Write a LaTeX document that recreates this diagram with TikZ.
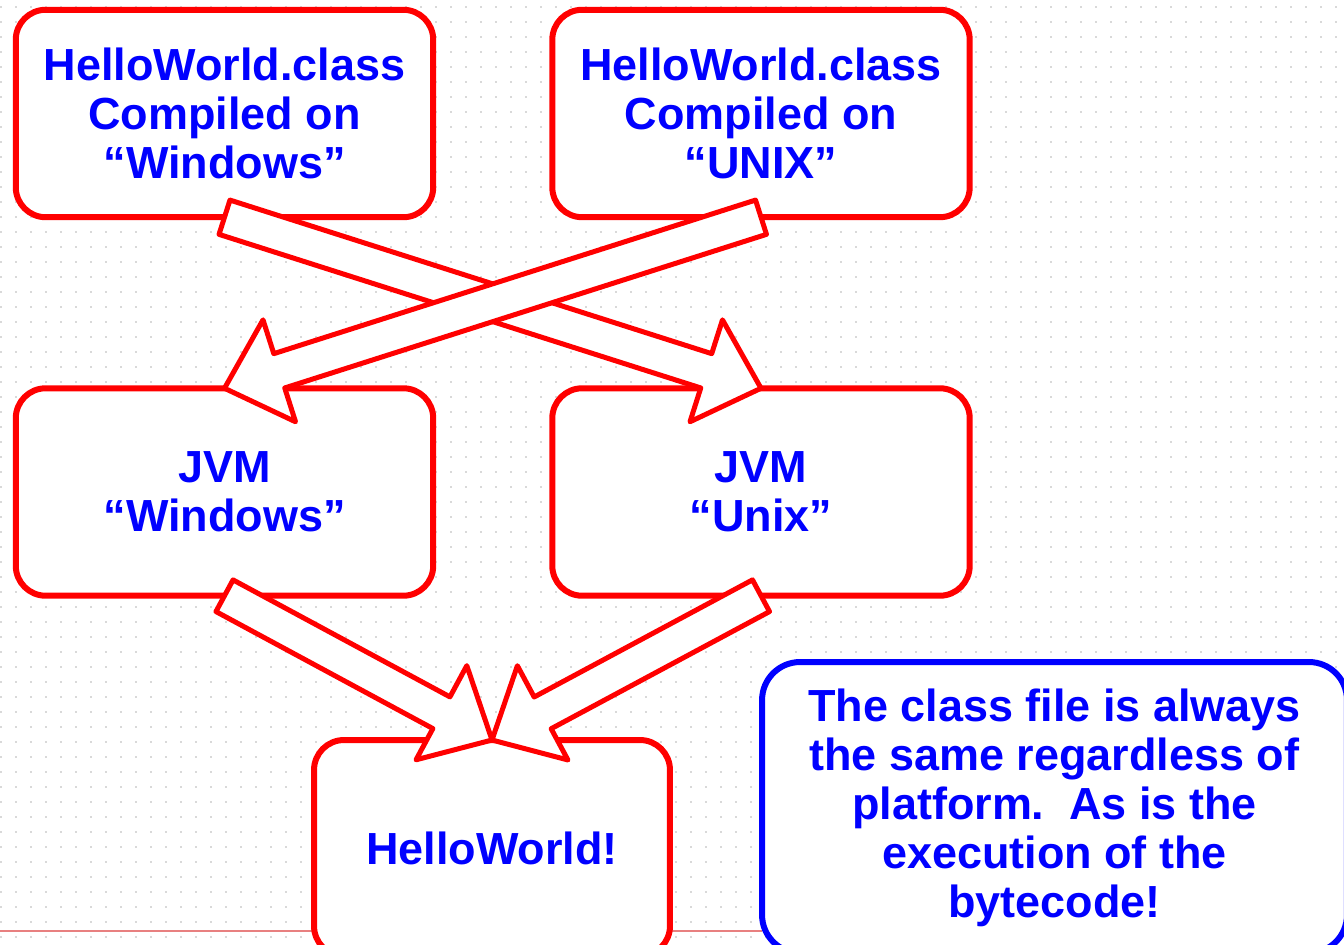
\documentclass[tikz,border=0pt]{standalone}
\usepackage{fontspec}
\setmainfont{Liberation Sans}
\usetikzlibrary{calc}
\definecolor{pptred}{RGB}{255,0,0}
\definecolor{pptblue}{RGB}{0,0,255}
\definecolor{rulered}{RGB}{232,128,128}
\tikzset{
  box/.style={draw=pptred, line width=0.12cm, rounded corners=0.6cm, fill=white,
    minimum width=8.35cm, minimum height=4.15cm, inner sep=0pt, outer sep=0pt,
    text=pptblue, align=center, font=\bfseries\fontsize{25.6pt}{27.9pt}\selectfont},
  note/.style={box, draw=pptblue, rounded corners=0.76cm},
  fatarrow/.style={draw=pptred, fill=white, line width=0.1cm, line join=round},
  griddot/.style={gray!30, line width=1.1pt, dash pattern=on 1.1pt off 7.44pt}
}
\newcommand{\bigarrow}[2]{%
  \path (#1) coordinate (ba-t) (#2) coordinate (ba-h);
  \coordinate (ba-b) at ($(ba-h)!1.15cm!(ba-t)$);
  \draw[fatarrow] ($(ba-t)!0.36cm!90:(ba-h)$) -- ($(ba-b)!0.36cm!-90:(ba-t)$)
    -- ($(ba-b)!1.07cm!-90:(ba-t)$) -- (ba-h) -- ($(ba-b)!1.07cm!90:(ba-t)$)
    -- ($(ba-b)!0.36cm!90:(ba-t)$) -- ($(ba-t)!0.36cm!-90:(ba-h)$) -- cycle;
}
\begin{document}
\begin{tikzpicture}[x=0.02cm,y=-0.02cm]
\useasboundingbox (0,0) rectangle (1344,945);
\fill[white] (0,0) rectangle (1344,945);
\foreach \r in {0,...,62}
  \draw[griddot] (0,7+15*\r) -- (1344,7+15*\r);
\draw[rulered, line width=1pt] (0,931) -- (762,931);
\node[box] (cw) at (224.5,113.5) {HelloWorld.class\\Compiled on\\“Windows”};
\node[box] (cu) at (761,113.5) {HelloWorld.class\\Compiled on\\“UNIX”};
\node[box] (jw) at (224.5,492) {JVM\\“Windows”};
\node[box] (ju) at (761,492) {JVM\\“Unix”};
\node[box, minimum width=7.12cm, minimum height=4.32cm] (hw) at (492,848) {HelloWorld!};
\node[note, minimum width=11.7cm, minimum height=5.82cm] (same) at (1054.5,807.5)
  {The class file is always\\the same regardless of\\platform.~~As is the\\execution of the\\bytecode!};
\bigarrow{cw.south}{ju.north}
\bigarrow{cu.south}{jw.north}
\bigarrow{jw.south}{hw.north}
\bigarrow{ju.south}{hw.north}
\end{tikzpicture}
\end{document}
